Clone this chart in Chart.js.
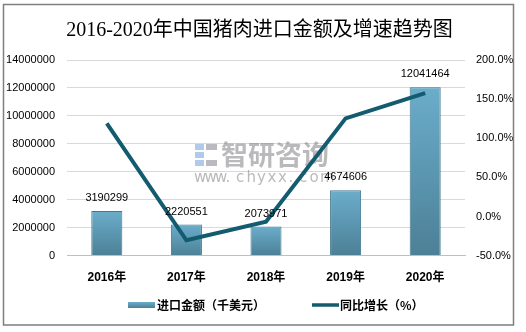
<!DOCTYPE html>
<html lang="zh">

<head>
    <meta charset="UTF-8">
    <title>2016-2020年中国猪肉进口金额及增速趋势图</title>
    <script src="https://cdn.jsdelivr.net/npm/chart.js"></script>
    <style>
        html, body { margin: 0; padding: 0; background: #fff; }
        #wrap { width: 526px; height: 332px; }
    </style>
</head>

<body>
    <div id="wrap"><canvas id="myChart" width="526" height="332"></canvas></div>
    <script>
        const years = ['2016年', '2017年', '2018年', '2019年', '2020年'];
        // 进口金额 (千美元)
        const importValue = [3190299, 2220551, 2073971, 4674606, 12041464];
        // 同比增长 (%)
        const growthRate = [119.0, -30.4, -6.6, 125.4, 157.6];
        const leftMin = 0, leftMax = 14000000, leftStep = 2000000;
        const rightMin = -50, rightMax = 200, rightStep = 50;
        const legendNames = ['进口金额（千美元）', '同比增长（%）'];

        const sansFont = "'Liberation Sans', 'Noto Sans CJK SC', sans-serif";
        const cjkFont = "'Noto Sans CJK SC', sans-serif";
        const lineColor = '#135b6e';

        function barGradient(c, top, bottom) {
            let g = c.createLinearGradient(0, top, 0, bottom);
            g.addColorStop(0, '#6badcb');
            g.addColorStop(1, '#4c8096');
            return g;
        }

        // grey frame around the whole figure
        const framePlugin = {
            id: 'frame',
            afterDraw(chart) {
                const c = chart.ctx;
                c.save();
                c.strokeStyle = '#7f7f7f';
                c.lineWidth = 1.5;
                c.strokeRect(3.5, 4.5, 510, 320.5);
                c.restore();
            }
        };

        // site watermark behind the marks
        const watermarkPlugin = {
            id: 'watermark',
            beforeDatasetsDraw(chart) {
                const c = chart.ctx;
                c.save();
                c.fillStyle = 'rgba(110,160,215,0.55)';
                c.fillRect(195, 144, 9, 6);
                c.fillRect(195, 152, 9, 6);
                c.fillRect(195, 160, 9, 6);
                c.fillStyle = 'rgba(140,140,150,0.6)';
                c.fillRect(206, 144, 11, 6);
                c.fillRect(206, 160, 11, 6);
                c.fillStyle = 'rgba(130,130,135,0.55)';
                c.font = "bold 27px " + cjkFont;
                c.textBaseline = 'middle';
                c.textAlign = 'left';
                c.fillText('智研咨询', 221, 155);
                c.font = "15px 'DejaVu Sans', sans-serif";
                c.fillStyle = 'rgba(130,130,135,0.55)';
                let x = 194;
                for (const ch of 'www.chyxx.com') {
                    c.fillText(ch, x, 178);
                    x += 10.5;
                }
                c.restore();
            }
        };

        // value labels above the bars
        const barLabelPlugin = {
            id: 'barLabels',
            afterDatasetsDraw(chart) {
                const c = chart.ctx;
                const meta = chart.getDatasetMeta(1);
                c.save();
                c.font = "11px " + sansFont;
                c.fillStyle = '#000';
                c.textAlign = 'center';
                c.textBaseline = 'middle';
                meta.data.forEach((bar, i) => {
                    c.fillText(String(importValue[i]), bar.x, bar.y - 13);
                });
                c.restore();
            }
        };

        // legend at the bottom
        const legendPlugin = {
            id: 'bottomLegend',
            afterDraw(chart) {
                const c = chart.ctx;
                const y = 305;
                c.save();
                c.font = "bold 12px " + cjkFont;
                c.textBaseline = 'middle';
                c.textAlign = 'left';
                c.fillStyle = barGradient(c, y - 3, y + 3);
                c.fillRect(128, y - 3, 27, 6);
                c.fillStyle = '#000';
                c.fillText(legendNames[0], 157, y);
                c.strokeStyle = lineColor;
                c.lineWidth = 3.5;
                c.beginPath();
                c.moveTo(312, y);
                c.lineTo(339, y);
                c.stroke();
                c.fillText(legendNames[1], 340, y);
                c.restore();
            }
        };

        const ctx = document.getElementById('myChart').getContext('2d');
        const myChart = new Chart(ctx, {
            data: {
                labels: years,
                datasets: [{
                    type: 'line',
                    label: legendNames[1],
                    data: growthRate,
                    yAxisID: 'y1',
                    borderColor: lineColor,
                    backgroundColor: lineColor,
                    borderWidth: 4,
                    pointRadius: 0,
                    tension: 0,
                    order: 0
                }, {
                    type: 'bar',
                    label: legendNames[0],
                    data: importValue,
                    yAxisID: 'y',
                    backgroundColor: (context) => {
                        const chart = context.chart;
                        if (!chart.chartArea || context.type !== 'data') return '#5e9db9';
                        const sy = chart.scales.y;
                        return barGradient(chart.ctx, sy.getPixelForValue(context.raw), sy.getPixelForValue(0));
                    },
                    borderColor: '#41788c',
                    borderWidth: 1,
                    barPercentage: 0.39,
                    categoryPercentage: 1,
                    order: 1
                }]
            },
            options: {
                responsive: false,
                animation: false,
                layout: { padding: { left: 6, right: 13, top: 0, bottom: 40 } },
                plugins: {
                    legend: { display: false },
                    tooltip: { enabled: false },
                    title: {
                        display: true,
                        text: '2016-2020年中国猪肉进口金额及增速趋势图',
                        color: '#000',
                        font: { family: "'Liberation Serif', 'Noto Sans CJK SC', serif", size: 20, weight: 'normal' },
                        padding: { top: 19, bottom: 17 }
                    }
                },
                scales: {
                    x: {
                        grid: { display: false },
                        border: { color: '#bfbfbf' },
                        ticks: { color: '#000', font: { family: sansFont, size: 12, weight: 'bold' }, padding: 7 }
                    },
                    y: {
                        position: 'left',
                        min: leftMin,
                        max: leftMax,
                        grid: { color: '#d9d9d9', drawTicks: false },
                        border: { display: false },
                        afterFit: (scale) => { scale.width = 61; },
                        ticks: {
                            stepSize: leftStep,
                            color: '#000',
                            font: { family: sansFont, size: 11 },
                            padding: 12,
                            callback: (v) => String(v)
                        }
                    },
                    y1: {
                        position: 'right',
                        min: rightMin,
                        max: rightMax,
                        grid: { display: false, drawTicks: false },
                        border: { display: false },
                        afterFit: (scale) => { scale.width = 48; },
                        ticks: {
                            stepSize: rightStep,
                            color: '#000',
                            font: { family: sansFont, size: 11 },
                            padding: 11,
                            callback: (v) => v.toFixed(1) + '%'
                        }
                    }
                }
            },
            plugins: [framePlugin, watermarkPlugin, barLabelPlugin, legendPlugin]
        });
    </script>
</body>

</html>
